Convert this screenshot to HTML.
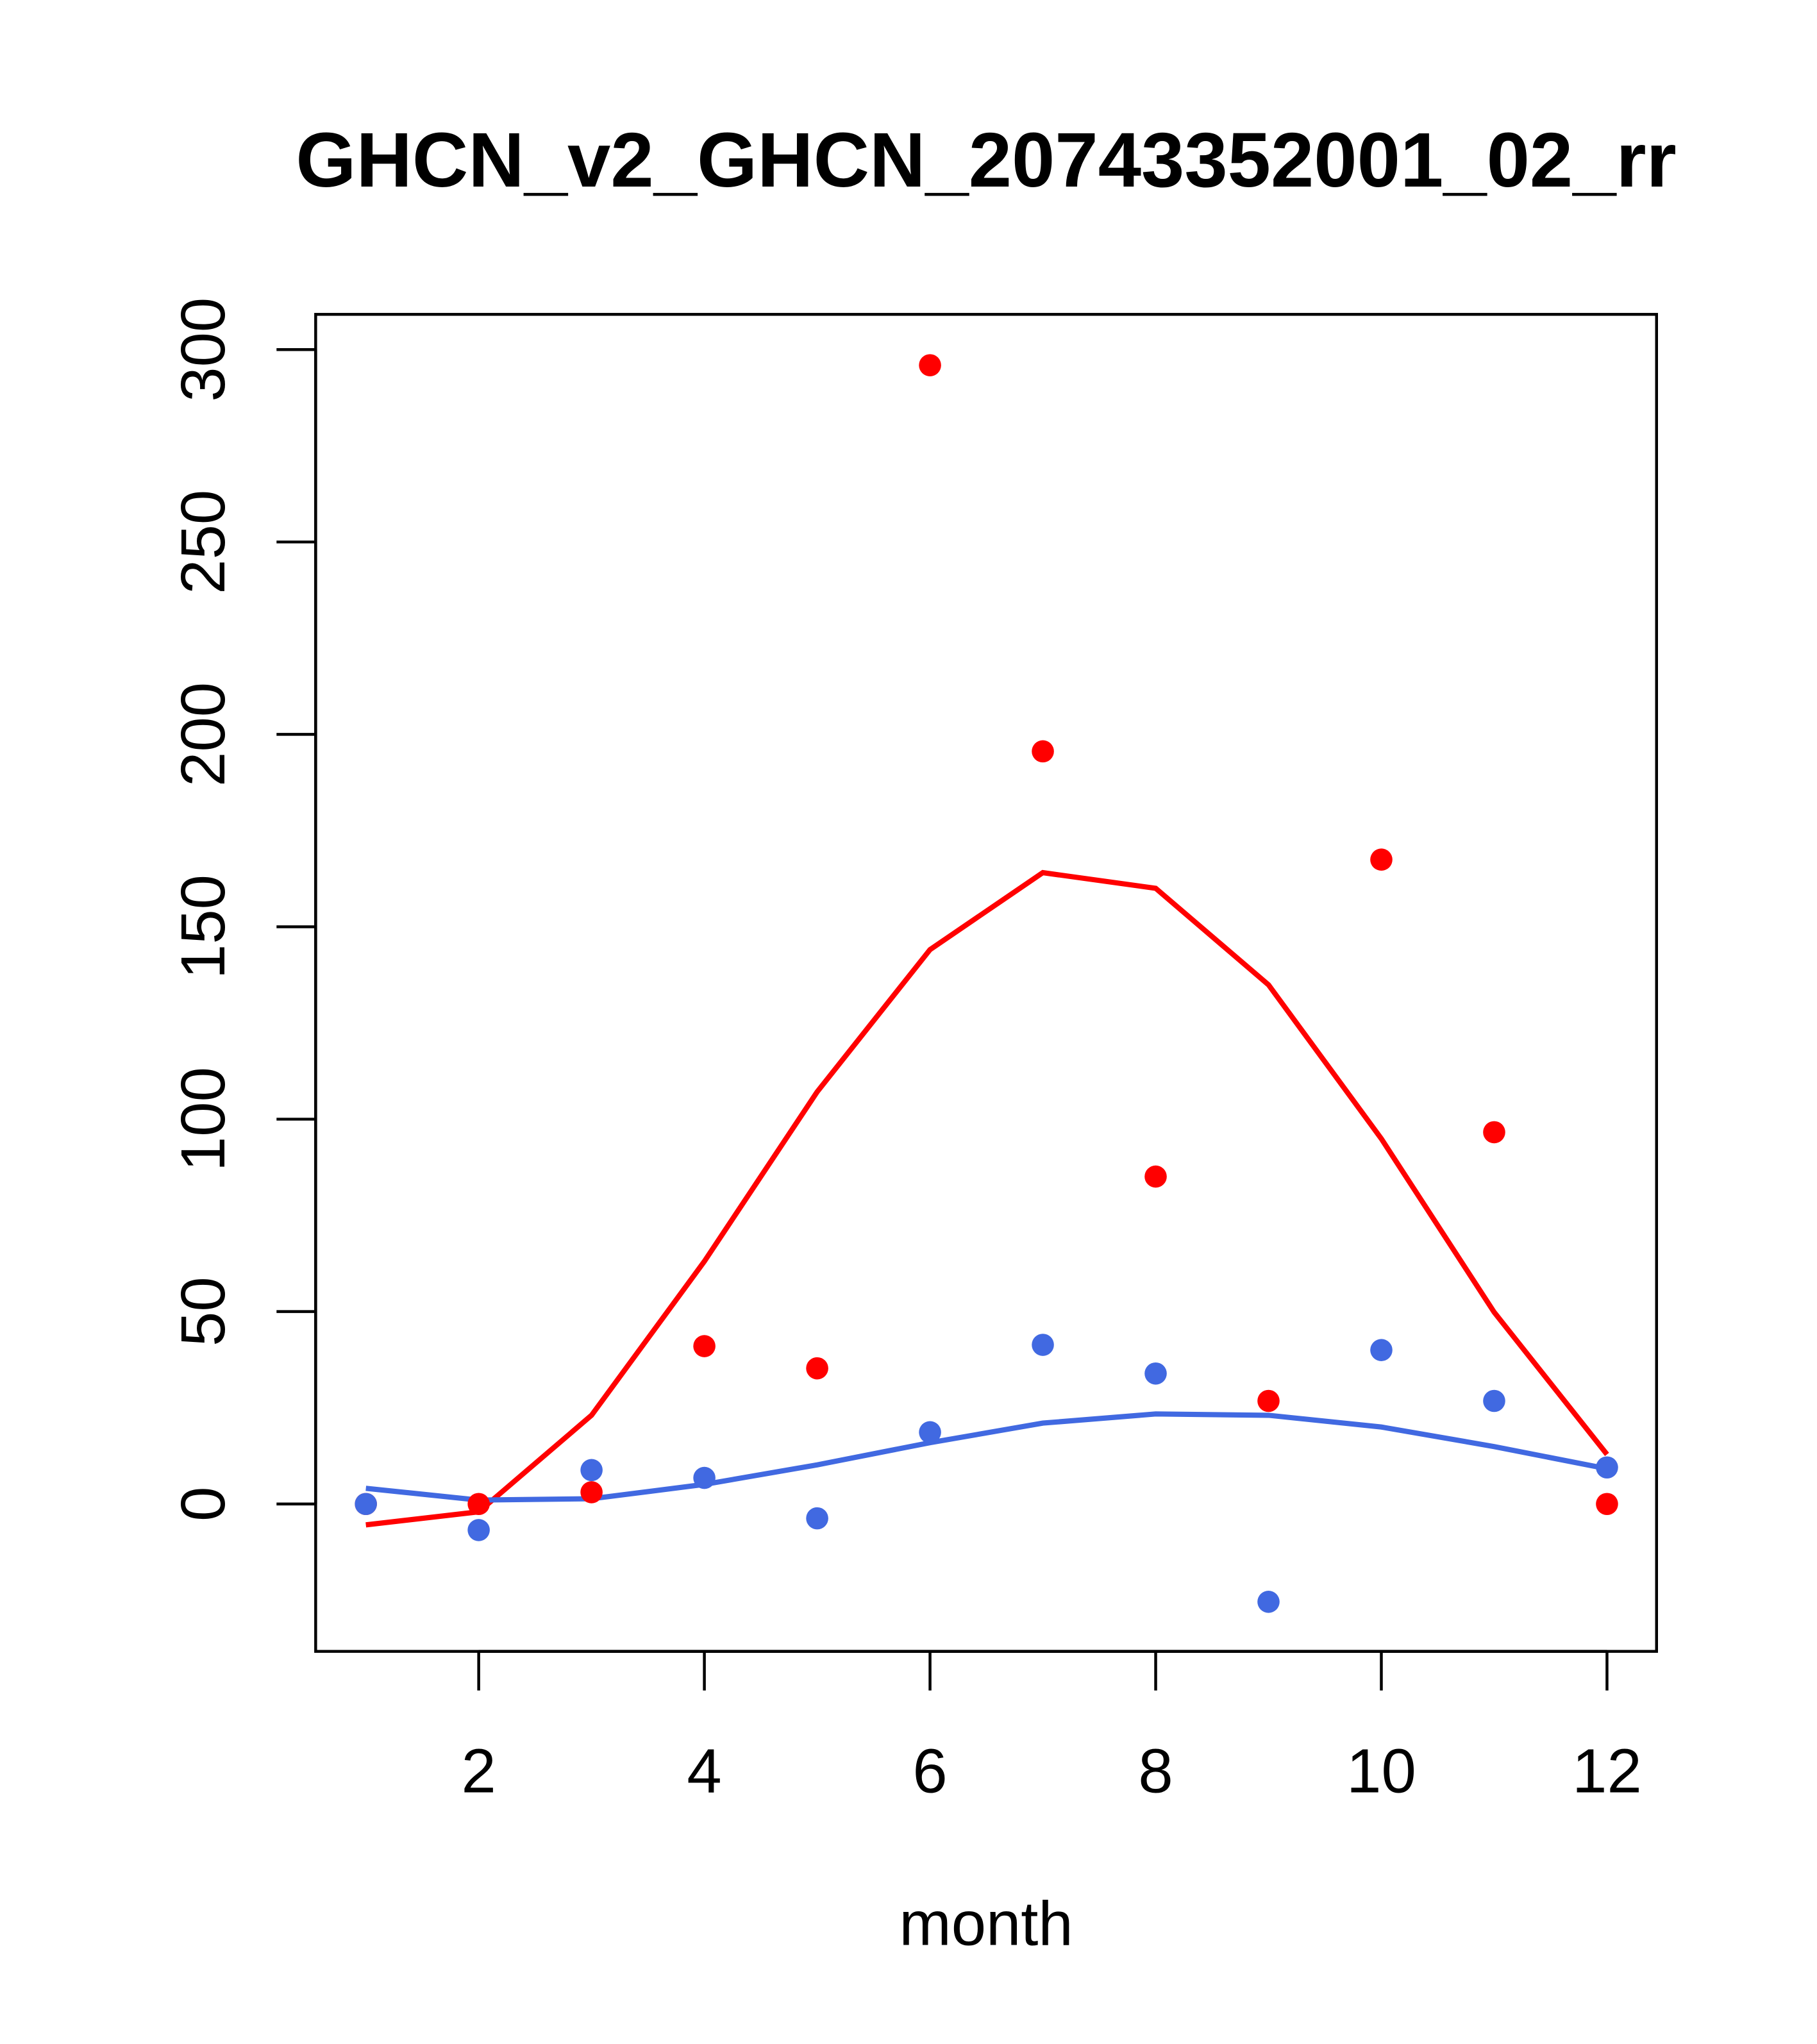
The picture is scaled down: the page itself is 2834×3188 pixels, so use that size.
<!DOCTYPE html>
<html><head><style>body{margin:0;background:#fff}svg{display:block}</style></head>
<body>
<svg width="2834" height="3188" viewBox="0 0 1393 1567" preserveAspectRatio="none" xmlns="http://www.w3.org/2000/svg" font-family="Liberation Sans, sans-serif">
<rect width="1400" height="1575" fill="#fff"/>
<text x="756" y="143" font-size="59.5" font-weight="bold" text-anchor="middle">GHCN_v2_GHCN_20743352001_02_rr</text>
<rect x="242" y="241" width="1028" height="1025" fill="none" stroke="#000" stroke-width="2.2"/>
<g stroke="#000" stroke-width="2.2">
<line x1="367" y1="1266" x2="1232" y2="1266"/>
<line x1="367" y1="1266" x2="367" y2="1296"/><line x1="540" y1="1266" x2="540" y2="1296"/><line x1="713" y1="1266" x2="713" y2="1296"/><line x1="886" y1="1266" x2="886" y2="1296"/><line x1="1059" y1="1266" x2="1059" y2="1296"/><line x1="1232" y1="1266" x2="1232" y2="1296"/>
<line x1="242" y1="1153" x2="242" y2="268"/>
<line x1="242" y1="1153" x2="212" y2="1153"/><line x1="242" y1="1005.5" x2="212" y2="1005.5"/><line x1="242" y1="858" x2="212" y2="858"/><line x1="242" y1="710.5" x2="212" y2="710.5"/><line x1="242" y1="563" x2="212" y2="563"/><line x1="242" y1="415.5" x2="212" y2="415.5"/><line x1="242" y1="268" x2="212" y2="268"/>
</g>
<g font-size="48" text-anchor="middle">
<text x="367" y="1374">2</text><text x="540" y="1374">4</text><text x="713" y="1374">6</text><text x="886" y="1374">8</text><text x="1059" y="1374">10</text><text x="1232" y="1374">12</text>
<text x="756" y="1491">month</text>
<g transform="rotate(-90)">
<text x="-1153" y="172">0</text><text x="-1005.5" y="172">50</text><text x="-858" y="172">100</text><text x="-710.5" y="172">150</text><text x="-563" y="172">200</text><text x="-415.5" y="172">250</text><text x="-268" y="172">300</text>
</g></g>
<polyline fill="none" stroke="#ff0000" stroke-width="4" points="280.5,1169 367,1159 453.5,1085 540,967 626.5,837 713,728 799.5,669 886,681 972.5,755 1059,873 1145.5,1006 1232,1115"/>
<polyline fill="none" stroke="#4169e1" stroke-width="4" points="280.5,1141 367,1150 453.5,1149 540,1138 626.5,1123 713,1106 799.5,1091 886,1084 972.5,1085 1059,1094 1145.5,1109 1232,1126"/>
<g fill="#ff0000">
<circle cx="280.5" cy="1153" r="8.5"/><circle cx="367" cy="1153" r="8.5"/><circle cx="453.5" cy="1144" r="8.5"/><circle cx="540" cy="1032" r="8.5"/><circle cx="626.5" cy="1049" r="8.5"/><circle cx="713" cy="280" r="8.5"/><circle cx="799.5" cy="576" r="8.5"/><circle cx="886" cy="902" r="8.5"/><circle cx="972.5" cy="1074" r="8.5"/><circle cx="1059" cy="659" r="8.5"/><circle cx="1145.5" cy="868" r="8.5"/><circle cx="1232" cy="1153" r="8.5"/>
</g>
<g fill="#4169e1">
<circle cx="280.5" cy="1153" r="8.5"/><circle cx="367" cy="1173" r="8.5"/><circle cx="453.5" cy="1127" r="8.5"/><circle cx="540" cy="1133" r="8.5"/><circle cx="626.5" cy="1164" r="8.5"/><circle cx="713" cy="1098" r="8.5"/><circle cx="799.5" cy="1031" r="8.5"/><circle cx="886" cy="1053" r="8.5"/><circle cx="972.5" cy="1228" r="8.5"/><circle cx="1059" cy="1035" r="8.5"/><circle cx="1145.5" cy="1074" r="8.5"/><circle cx="1232" cy="1125" r="8.5"/>
</g>
</svg>
</body></html>
